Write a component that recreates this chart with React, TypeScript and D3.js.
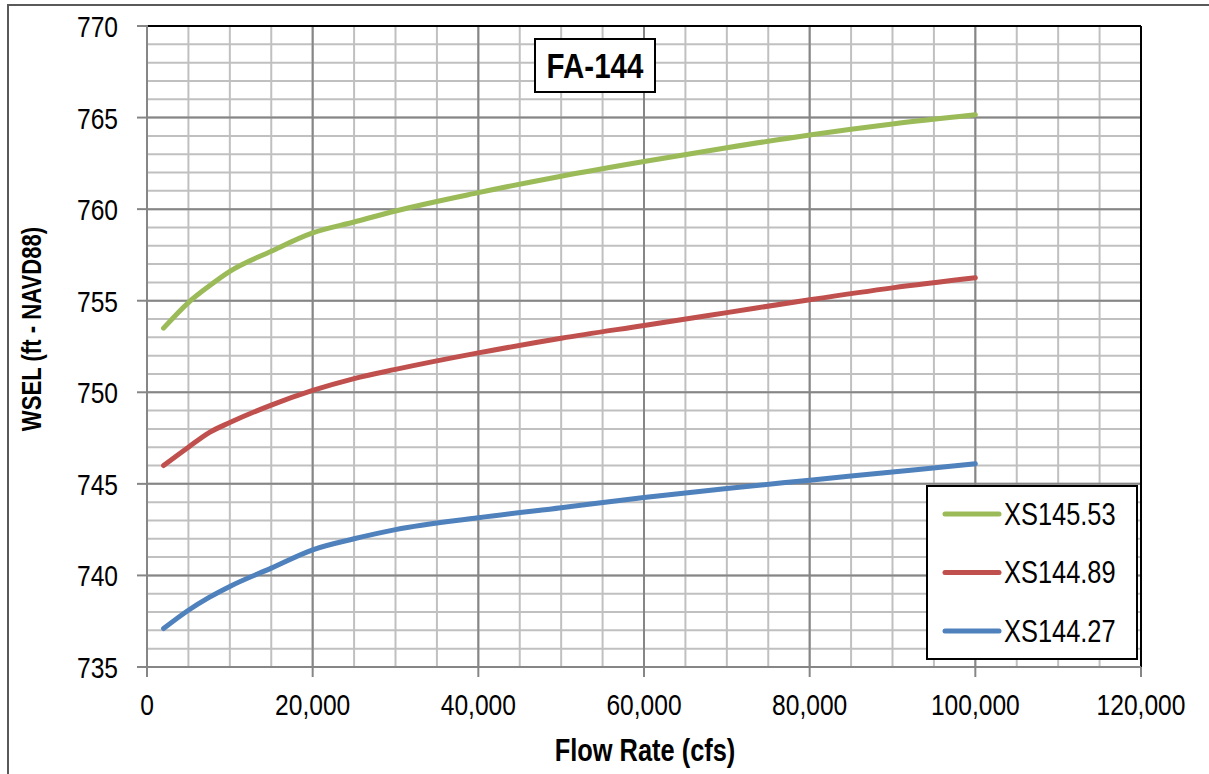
import React from "react";
import * as d3 from "d3";

const flows = [2000, 5000, 7500, 10000, 15000, 20000, 25000, 30000, 40000, 50000, 60000, 70000, 80000, 90000, 100000];
const xs14553 = [753.5, 754.9, 755.8, 756.6, 757.7, 758.7, 759.3, 759.9, 760.9, 761.8, 762.6, 763.35, 764.05, 764.65, 765.15];
const xs14489 = [746.0, 747.0, 747.8, 748.35, 749.3, 750.1, 750.75, 751.25, 752.15, 752.95, 753.65, 754.35, 755.05, 755.7, 756.25];
const xs14427 = [737.1, 738.1, 738.8, 739.4, 740.4, 741.4, 742.0, 742.5, 743.15, 743.7, 744.25, 744.75, 745.2, 745.65, 746.1];

const seriesNames = ["XS145.53", "XS144.89", "XS144.27"];
const seriesColors = ["#9BBB59", "#C0504D", "#4F81BD"];
const seriesValues = [xs14553, xs14489, xs14427];

const xTicks = [0, 20000, 40000, 60000, 80000, 100000, 120000];
const yTicks = [735, 740, 745, 750, 755, 760, 765, 770];

const chartTitle = "FA-144";
const xTitle = "Flow Rate (cfs)";
const yTitle = "WSEL (ft - NAVD88)";

const W = 1209;
const H = 774;
const L = 147, R = 1141, T = 26, B = 667;
const FONT = "'Liberation Sans', Arial, sans-serif";
const SX = 0.82;

type NTProps = {
  x: number;
  y: number;
  size: number;
  anchor?: "start" | "middle" | "end";
  bold?: boolean;
  rotate?: number;
  children: React.ReactNode;
};

function NText({ x, y, size, anchor = "start", bold = false, rotate = 0, children }: NTProps) {
  return (
    <g transform={`translate(${x},${y}) rotate(${rotate}) scale(${SX},1)`}>
      <text x={0} y={0} textAnchor={anchor} fontSize={size} fontWeight={bold ? "bold" : "normal"} fill="#000">
        {children}
      </text>
    </g>
  );
}

export default function App() {
  const x = d3.scaleLinear().domain([0, 120000]).range([L, R]);
  const y = d3.scaleLinear().domain([735, 770]).range([B, T]);
  const minorX = d3.range(0, 120001, 5000);
  const minorY = d3.range(735, 770.01, 1);
  const fmt = d3.format(",");
  const line = d3
    .line<number>()
    .x((_, i) => x(flows[i]))
    .y((d) => y(d))
    .curve(d3.curveMonotoneX);

  return (
    <svg width={W} height={H} style={{ position: "absolute", left: 0, top: 0, background: "#fff" }} fontFamily={FONT}>
      <rect x={8} y={5} width={1215} height={790} fill="#fff" stroke="#595959" strokeWidth={2} />
      {/* minor grid */}
      {minorX.map((v) => (
        <line key={"mx" + v} x1={x(v)} x2={x(v)} y1={T} y2={B} stroke="#c0c0c0" strokeWidth={2} />
      ))}
      {minorY.map((v) => (
        <line key={"my" + v} x1={L} x2={R} y1={y(v)} y2={y(v)} stroke="#c0c0c0" strokeWidth={2} />
      ))}
      {/* major grid */}
      {xTicks.map((v) => (
        <line key={"Mx" + v} x1={x(v)} x2={x(v)} y1={T} y2={B} stroke="#868686" strokeWidth={2} />
      ))}
      {yTicks.map((v) => (
        <line key={"My" + v} x1={L} x2={R} y1={y(v)} y2={y(v)} stroke="#868686" strokeWidth={2} />
      ))}
      {/* plot border */}
      <line x1={L} x2={R} y1={T} y2={T} stroke="#000" strokeWidth={2} />
      <line x1={R} x2={R} y1={T} y2={B} stroke="#000" strokeWidth={2} />
      {/* axes */}
      <line x1={L} x2={L} y1={T - 1} y2={B + 10} stroke="#868686" strokeWidth={2} />
      <line x1={L - 10} x2={R} y1={B} y2={B} stroke="#868686" strokeWidth={2} />
      {yTicks.map((v) => (
        <g key={"yt" + v}>
          <line x1={L - 10} x2={L} y1={y(v)} y2={y(v)} stroke="#868686" strokeWidth={2} />
          <NText x={118} y={y(v) + 11} size={30} anchor="end">{v}</NText>
        </g>
      ))}
      {xTicks.map((v) => (
        <g key={"xt" + v}>
          <line x1={x(v)} x2={x(v)} y1={B} y2={B + 10} stroke="#868686" strokeWidth={2} />
          <NText x={x(v)} y={715} size={30} anchor="middle">{fmt(v)}</NText>
        </g>
      ))}
      {/* series */}
      {seriesValues.map((vals, i) => (
        <path key={"s" + i} d={line(vals) || ""} fill="none" stroke={seriesColors[i]} strokeWidth={5} strokeLinecap="round" strokeLinejoin="round" />
      ))}
      {/* title box */}
      <rect x={535} y={39} width={120} height={53} fill="#fff" stroke="#000" strokeWidth={2} />
      <NText x={595} y={78} size={36} anchor="middle" bold>{chartTitle}</NText>
      {/* axis titles */}
      <NText x={645} y={761} size={31} anchor="middle" bold>{xTitle}</NText>
      <NText x={41} y={329} size={27} anchor="middle" bold rotate={-90}>{yTitle}</NText>
      {/* legend */}
      <rect x={927} y={486} width={210} height={173} fill="#fff" stroke="#000" strokeWidth={2} />
      {seriesNames.map((n, i) => {
        const ly = 514 + i * 58.5;
        return (
          <g key={"lg" + i}>
            <line x1={945} x2={999} y1={ly} y2={ly} stroke={seriesColors[i]} strokeWidth={5} strokeLinecap="round" />
            <NText x={1004} y={ly + 10.5} size={31}>{n}</NText>
          </g>
        );
      })}
    </svg>
  );
}
